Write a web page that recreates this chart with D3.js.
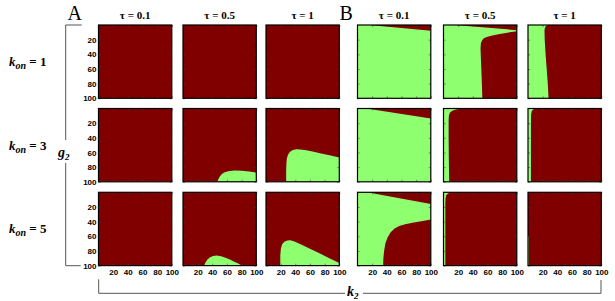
<!DOCTYPE html>
<html>
<head>
<meta charset="utf-8">
<script src="https://cdn.jsdelivr.net/npm/d3@7"></script>
<style>
  body { margin: 0; background: #fff; }
  .tick text { font-family: "Liberation Sans", Arial, sans-serif; font-weight: bold; font-size: 8px; }
</style>
</head>
<body>
<script>
// column headers, row headers, axis ticks
const taus = ["0.1", "0.5", "1"];
const kons = ["1", "3", "5"];
const axisTicks = [20, 40, 60, 80, 100];

// Panel A: background is the dark-red region, polygons are green regions  [k2, g2]
const regionsA = [
  [[], [], []],
  [
    [],
    [[[47,100],[48,97],[50,93],[53,89.5],[57,87],[62,85.5],[70,84.5],[80,85],[90,86],[100,87.5],[100,100]]],
    [[[27.5,100],[27.5,85],[27.8,75],[28.5,68],[30,63],[32.5,59.5],[36,57],[41,55.7],[47,55.8],[55,57],[65,59],[75,61.3],[85,63.5],[100,67],[100,100]]]
  ],
  [
    [],
    [[[29,100],[30.5,96],[33,92],[36.5,89],[41,86.8],[46,86.2],[52,87.2],[58,89.2],[64,91.8],[70,94.6],[76,97.6],[80,100]]],
    [[[19.5,100],[19.5,86],[20.3,77],[22,71],[25,67.5],[29,65.7],[33,65.5],[38,66.8],[45,70],[55,74.7],[65,79.5],[75,84.3],[85,89.2],[95,94],[100,96.5],[100,100]]]
  ]
];

// Panel B: background is the green region, polygons are dark-red regions  [k2, g2]
const regionsB = [
  [
    [[[16,0],[100,0],[100,8],[60,4.2]]],
    [[[15,0],[100,0],[100,7]],
     [[53,100],[52,70],[51,45],[50.5,32],[51,25],[52.5,21],[55,18.2],[59,16.3],[65,14.7],[75,12.6],[85,10.8],[100,8.5],[100,100]]],
    [[[27,0],[24.5,1.5],[23,4],[22.5,8],[22.8,20],[24,40],[25.5,60],[27,80],[28,100],[100,100],[100,0]]]
  ],
  [
    [[[12,0],[100,0],[100,13.5]]],
    [[[24,0],[17,1.5],[12,3],[9,5.5],[7.5,9],[7,15],[7,40],[7.3,70],[7.8,100],[100,100],[100,0]]],
    [[[10,0],[7,1.5],[5,4],[4.3,8],[4,20],[4,100],[100,100],[100,0]]]
  ],
  [
    [[[13,0],[100,0],[100,16]],
     [[35,100],[35.3,90],[36.3,80],[38,70],[41,61.5],[45,55],[50.5,49.5],[57,46],[65,43.5],[75,41.5],[87,39.5],[100,37],[100,100]]],
    [[[11,0],[6,1.5],[3.8,4],[2.8,8],[2.5,15],[2.5,100],[100,100],[100,0]]],
    [[[0,0],[100,0],[100,100],[1,100],[1,60],[0,60]]]
  ]
];

const width = 615, height = 301;
const red = "#800000", green = "#8eff6e";
const size = 73.3;
const colX = [98.5, 183, 266, 357.5, 443.5, 528];
const rowY = [25, 108.5, 192.3];

const svg = d3.select("body").append("svg")
  .attr("width", width)
  .attr("height", height);

const x = d3.scaleLinear().domain([0, 100]).range([0, size]);
const y = d3.scaleLinear().domain([0, 100]).range([0, size]);
const line = d3.line().x(d => x(d[0])).y(d => y(d[1]));

const defs = svg.append("defs");
defs.append("clipPath").attr("id", "cell")
  .append("rect").attr("width", size).attr("height", size);

function drawPanel(px, py, base, over, polys, showX, showY) {
  const g = svg.append("g").attr("transform", `translate(${px},${py})`);
  const inner = g.append("g").attr("clip-path", "url(#cell)");
  inner.append("rect").attr("width", size).attr("height", size).attr("fill", base);
  inner.selectAll("path").data(polys).join("path")
    .attr("d", d => line(d) + "Z")
    .attr("fill", over);

  // frame ticks
  const mk = (axis, show) => axis.tickValues(axisTicks).tickSizeInner(-2).tickSizeOuter(0)
    .tickFormat(show ? d3.format("d") : "");
  const ax = [
    [mk(d3.axisBottom(x), showX).tickPadding(4), `translate(0,${size})`],
    [mk(d3.axisTop(x), false), "translate(0,0)"],
    [mk(d3.axisLeft(y), showY).tickPadding(2), "translate(0,0)"],
    [mk(d3.axisRight(y), false), `translate(${size},0)`]
  ];
  ax.forEach(([a, t]) => {
    const ag = g.append("g").attr("transform", t).call(a);
    ag.select(".domain").remove();
    ag.selectAll(".tick line").attr("stroke", "#444").attr("stroke-width", 0.6);
    ag.selectAll(".tick text").attr("fill", "#000");
  });

  g.append("rect").attr("width", size).attr("height", size)
    .attr("fill", "none").attr("stroke", "#000").attr("stroke-width", 1.2);
}

for (let r = 0; r < 3; r++) {
  for (let c = 0; c < 3; c++) {
    drawPanel(colX[c], rowY[r], red, green, regionsA[r][c], r === 2, c === 0);
    drawPanel(colX[c + 3], rowY[r], green, red, regionsB[r][c], r === 2, false);
  }
}

// column headers
const serif = "'Liberation Serif', 'Times New Roman', serif";
colX.forEach((cx, i) => {
  svg.append("text")
    .attr("x", cx + size / 2).attr("y", 19)
    .attr("text-anchor", "middle")
    .attr("font-family", serif).attr("font-weight", "bold").attr("font-size", 11)
    .text(`τ = ${taus[i % 3]}`);
});

// panel letters
[["A", 67.5], ["B", 339.5]].forEach(([t, lx]) => {
  svg.append("text").attr("x", lx).attr("y", 19.5)
    .attr("font-family", serif).attr("font-size", 20).text(t);
});

// row labels
kons.forEach((k, i) => {
  const t = svg.append("text")
    .attr("x", 9).attr("y", rowY[i] + 41)
    .attr("font-family", serif).attr("font-weight", "bold").attr("font-size", 13);
  t.append("tspan").attr("font-style", "italic").text("k");
  t.append("tspan").attr("font-style", "italic").attr("font-size", 10).attr("dy", 3).text("on");
  t.append("tspan").attr("dy", -3).text(` = ${k}`);
});

// left bracket (g2)
const bx = 65.7, by0 = 25, by1 = 265.7;
svg.append("path")
  .attr("d", `M${bx + 16},${by0}H${bx}V140 M${bx},163V${by1}H${bx + 15}`)
  .attr("fill", "none").attr("stroke", "#555").attr("stroke-width", 1);
const gl = svg.append("text").attr("x", 58).attr("y", 157)
  .attr("font-family", serif).attr("font-weight", "bold").attr("font-style", "italic").attr("font-size", 14);
gl.append("tspan").text("g");
gl.append("tspan").attr("font-size", 9).attr("dy", 3).text("2");

// bottom bracket (k2)
const ly = 293.3;
svg.append("path")
  .attr("d", `M98.7,279.3V${ly}H345 M363,${ly}H601V280`)
  .attr("fill", "none").attr("stroke", "#555").attr("stroke-width", 1);
const kl = svg.append("text").attr("x", 347).attr("y", 296)
  .attr("font-family", serif).attr("font-weight", "bold").attr("font-style", "italic").attr("font-size", 14);
kl.append("tspan").text("k");
kl.append("tspan").attr("font-size", 9).attr("dy", 3).text("2");
</script>
</body>
</html>
